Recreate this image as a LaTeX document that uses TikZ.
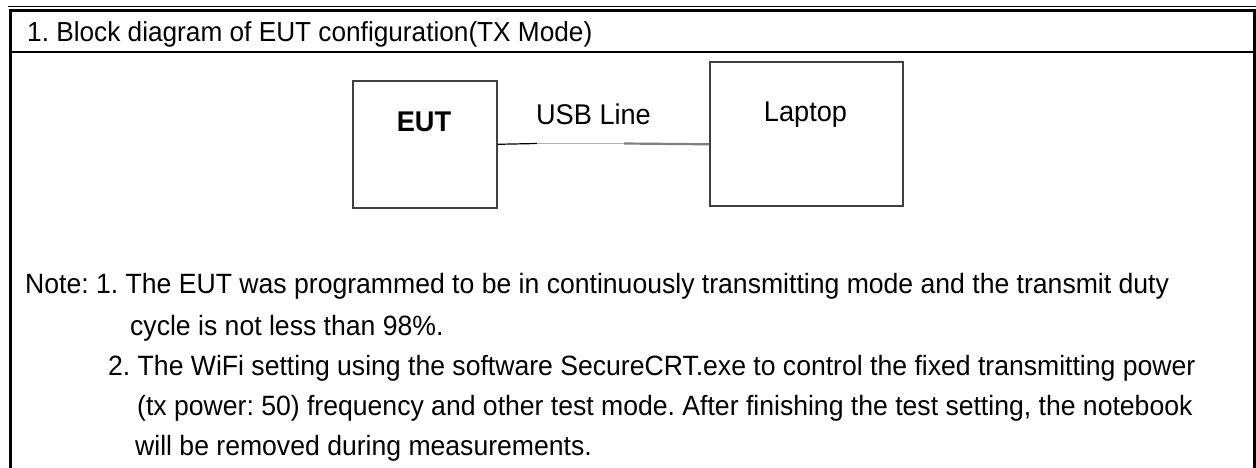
\documentclass[tikz,border=0pt]{standalone}
\usepackage{fontspec}
\setmainfont{Liberation Sans}[FakeStretch=0.953]
\begin{document}
\frenchspacing
\begin{tikzpicture}[x=1pt,y=-1pt,
  txt/.style={inner sep=0pt, anchor=base west, font=\fontsize{27.9}{30}\selectfont},
  hdrtxt/.style={inner sep=0pt, anchor=base west, font=\fontsize{27.5}{30}\selectfont},
  boxlbl/.style={inner sep=0pt, anchor=base, font=\fontsize{28.5}{30}\selectfont},
  devbox/.style={draw=black!75, line width=1.6pt, inner sep=0pt, anchor=north west},
  framethick/.style={line width=3pt, black},
  framethin/.style={line width=1.3pt, black}]
\useasboundingbox (0,0) rectangle (1256,468);
% frame
\draw[framethin] (8,6.5) -- (1256,6.5);
\draw[framethick] (9,11) -- (1256,11);
\draw[framethick] (10.5,9.5) -- (10.5,468);
\draw[framethick] (1254.5,9.5) -- (1254.5,468);
\draw[line width=2pt] (10.5,52.5) -- (1254.5,52.5);
% header
\node[hdrtxt] (hdr) at (27,42) {1. Block diagram of EUT configuration(TX Mode)};
% boxes
\node[devbox, minimum width=144pt, minimum height=127pt] (eut) at (352,80) {};
\node[devbox, minimum width=193pt, minimum height=144pt] (lap) at (709,61) {};
\node[boxlbl, font=\fontsize{28.5}{30}\selectfont\bfseries] (eutlbl) at (424,132) {EUT};
\node[boxlbl] (laplbl) at (805.5,122) {Laptop};
\node[boxlbl] (usb) at (593.5,125) {USB Line};
% connector
\coordinate (c1) at (537,143.5);
\coordinate (c2) at (624,143.5);
\draw[black, line width=1.2pt] (eut.east) -- (c1);
\draw[black!30, line width=1.6pt] (c1) -- (c2);
\draw[black!50, line width=2.2pt] (c2) -- (lap.west |- eut.east);
% notes
\node[txt] (n1) at (25,293) {Note: 1. The EUT was programmed to be in continuously transmitting mode and the transmit duty};
\node[txt] (n2) at (130,335) {cycle is not less than 98\%.};
\node[txt] (n3) at (108,375) {2. The WiFi setting using the software SecureCRT.exe to control the fixed transmitting power};
\node[txt] (n4) at (137,415) {(tx power: 50) frequency and other test mode. After finishing the test setting, the notebook};
\node[txt] (n5) at (135,455) {will be removed during measurements.};
\end{tikzpicture}
\end{document}
